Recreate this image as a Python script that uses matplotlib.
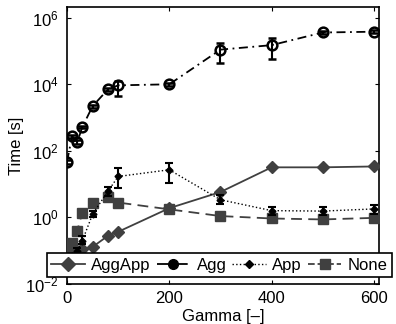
"""Time vs Gamma for the four aggregation variants (log scale, with error bars)."""
import matplotlib

matplotlib.use("Agg")
import matplotlib.pyplot as plt
import numpy as np
from matplotlib.lines import Line2D

plt.rcParams["font.family"] = ["Liberation Sans", "DejaVu Sans"]
plt.rcParams["mathtext.default"] = "regular"

gamma = [0, 10, 20, 30, 50, 80, 100, 200, 300, 400, 500, 600]

agg = [47, 280, 185, 520, 2200, 7000, 9300, 10000, 1.1e5, 1.5e5, 3.6e5, 3.8e5]
agg_lo = [40, 250, 165, 470, 2000, 6300, 4600, 9000, 4.3e4, 5.6e4, 3.3e5, 3.5e5]
agg_hi = [55, 310, 205, 570, 2400, 7700, 1.3e4, 11000, 1.8e5, 2.5e5, 4.0e5, 4.2e5]

agg_app = [0.08, 0.09, 0.1, 0.11, 0.13, 0.28, 0.37, 1.9, 5.8, 32, 32, 34]

app = [0.05, 0.07, 0.1, 0.2, 1.25, 6.1, 17, 27, 3.4, 1.6, 1.55, 1.8]
app_lo = [0.04, 0.06, 0.08, 0.16, 1.0, 4.5, 7.9, 11, 2.5, 1.2, 1.2, 1.3]
app_hi = [0.06, 0.08, 0.12, 0.28, 1.6, 8.0, 30, 43, 4.8, 2.1, 2.0, 2.4]

none = [0.1, 0.17, 0.4, 1.4, 2.8, 4.0, 2.8, 1.75, 1.1, 0.93, 0.87, 0.97]

dark = "#404040"

fig = plt.figure(figsize=(3.96, 3.24), dpi=100)
ax = fig.add_axes([67 / 396, 1 - 284 / 324, 312 / 396, 277 / 324])


def errs(vals, lo, hi):
    v = np.array(vals)
    return [v - np.array(lo), np.array(hi) - v]


ax.plot(gamma, agg_app, "-", color=dark, lw=1.3, marker="D", ms=6.5,
        mfc=dark, mec=dark, zorder=3)
ax.plot(gamma, none, "--", color=dark, lw=1.3, dashes=(6, 3.5), marker="s",
        ms=6.5, mfc=dark, mec=dark, zorder=3)
ax.errorbar(gamma, app, yerr=errs(app, app_lo, app_hi), fmt=":", color="black",
            lw=1.0, marker="D", ms=3.5, mfc="black", mec="black",
            elinewidth=1.5, capsize=3, capthick=1.5, zorder=4)
ax.errorbar(gamma, agg, yerr=errs(agg, agg_lo, agg_hi), fmt="-.", color="black",
            lw=1.3, dashes=(5, 2.5, 1, 2.5), marker="o", ms=7, mfc="none",
            mec="black", mew=1.8, elinewidth=1.5, capsize=3, capthick=1.5, zorder=5)

ax.set_yscale("log")
ax.set_xlim(0, 610)
ax.set_ylim(1e-2, 2.1e6)
ax.set_xticks([0, 200, 400, 600])
ax.set_yticks([1e-2, 1, 1e2, 1e4, 1e6])
ax.set_yticklabels(["$10^{-2}$", "$10^{0}$", "$10^{2}$", "$10^{4}$", "$10^{6}$"])
ax.minorticks_off()
ax.tick_params(direction="in", top=True, right=True, labelsize=12, length=3,
               width=0.8)
ax.tick_params(axis="y", pad=6)
ax.tick_params(axis="x", pad=5)
for s in ax.spines.values():
    s.set_linewidth(1.2)
ax.set_xlabel("Gamma [\u2013]", fontsize=12, labelpad=2)
ax.set_ylabel("Time [s]", fontsize=12, labelpad=1)

handles = [
    Line2D([], [], color=dark, lw=1.3, marker="D", ms=7, mfc=dark, mec=dark),
    Line2D([], [], color="black", lw=1.3, ls="-.", marker="o", ms=7, mfc="black"),
    Line2D([], [], color="black", lw=1.0, ls=":", marker="D", ms=4, mfc="black"),
    Line2D([], [], color=dark, lw=1.3, ls="--", marker="s", ms=7, mfc=dark, mec=dark),
]
leg = ax.legend(handles, ["AggApp", "Agg", "App", "None"], ncol=4,
                loc="upper left", bbox_to_anchor=(-0.065, 0.112),
                fontsize=12, frameon=True, fancybox=False, framealpha=1,
                edgecolor="black", handlelength=2.0, handletextpad=0.4,
                columnspacing=0.35, borderaxespad=0, borderpad=0.28)
leg.get_frame().set_linewidth(1.2)
leg.set_zorder(10)

fig.savefig("out.png", dpi=100)
